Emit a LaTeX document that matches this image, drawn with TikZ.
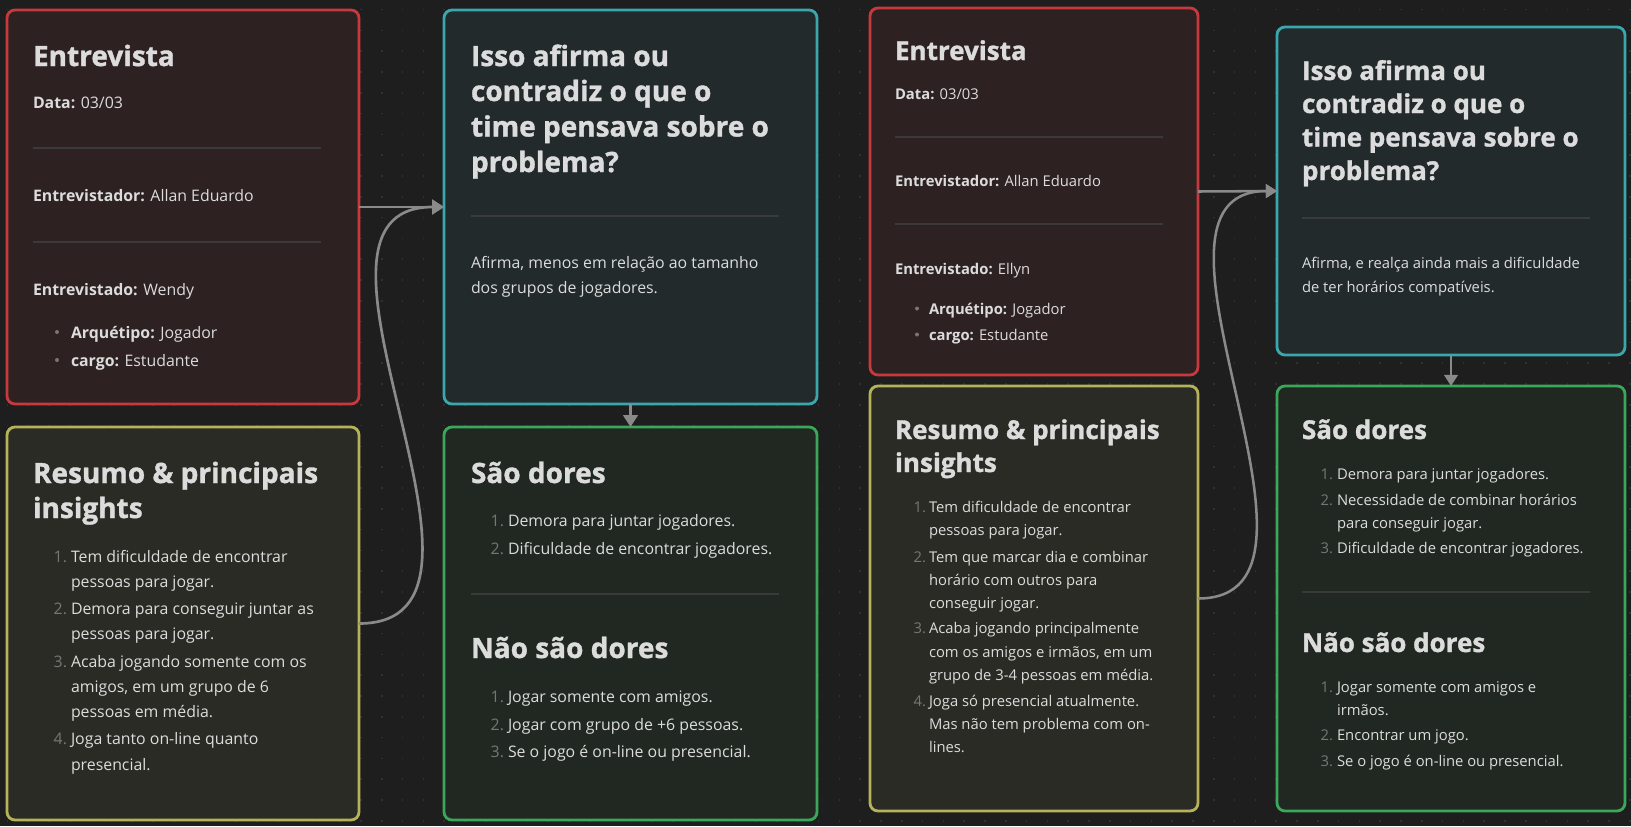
\documentclass[tikz,border=0pt]{standalone}
\usepackage{fontspec}
\setmainfont{Open Sans}
\newfontfamily\headfam{Open Sans}[BoldFeatures={FakeBold=1.2}]
\usetikzlibrary{arrows.meta}
\definecolor{bgc}{HTML}{1E1E1E}
\definecolor{gridc}{HTML}{303030}
\definecolor{txtc}{HTML}{DCDCDC}
\definecolor{numc}{HTML}{767676}
\definecolor{rulec}{HTML}{3A3A3A}
\definecolor{arrc}{HTML}{8A8A8A}
\definecolor{redb}{HTML}{C8393D}
\definecolor{redf}{HTML}{2D2122}
\definecolor{yelb}{HTML}{B5B25A}
\definecolor{yelf}{HTML}{2B2B25}
\definecolor{teab}{HTML}{3AA7AC}
\definecolor{teaf}{HTML}{232A2C}
\definecolor{greb}{HTML}{3AA75A}
\definecolor{gref}{HTML}{212822}
\newcommand\mytx[4][bodyA]{\node[#1] (#2) at (#3) {#4};}
\begin{document}
\begin{tikzpicture}[x=0.75pt,y=-0.75pt,
  card/.style={draw, rounded corners=6pt, line width=2.1pt, inner sep=0pt, outer sep=0pt},
  txt/.style={anchor=base west, inner sep=0pt, outer sep=0pt, text=txtc},
  bodyA/.style={txt, font=\fontsize{11.9}{14}\selectfont},
  headA/.style={txt, font=\fontsize{21}{25}\selectfont\headfam\bfseries},
  numA/.style={bodyA, anchor=base east, text=numc},
  bodyB/.style={txt, font=\fontsize{11.1}{13}\selectfont},
  headB/.style={txt, font=\fontsize{19.5}{23}\selectfont\headfam\bfseries},
  numB/.style={bodyB, anchor=base east, text=numc},
  hrule/.style={draw=rulec, line width=1.5pt},
  bul/.style={circle, fill=numc, draw=none, inner sep=0pt, minimum size=3pt},
  connA/.style={draw=arrc, line width=2pt, -{Triangle[length=9pt,width=11pt]}},
  connB/.style={draw=arrc, line width=1.9pt, -{Triangle[length=8.4pt,width=10.2pt]}},
  dotgrid/.style={draw=gridc, line width=1.2pt, dash pattern=on 1.2pt off 14.4pt}
]
\useasboundingbox[fill=bgc] (0,0) rectangle (1631,826);
\foreach \gy in {0,...,40} {
  \draw[dotgrid] (6.5,{9.5+20.8*\gy}) -- (1631,{9.5+20.8*\gy});
}
% ---------------- cards
\node[card, draw=redb, fill=redf, minimum width=264pt, minimum height=295.5pt] (b1) at (183,207) {};
\node[card, draw=yelb, fill=yelf, minimum width=264pt, minimum height=294.75pt] (b2) at (183,623.5) {};
\node[card, draw=teab, fill=teaf, minimum width=279.75pt, minimum height=295.5pt] (b3) at (630.5,207) {};
\node[card, draw=greb, fill=gref, minimum width=279.75pt, minimum height=294.75pt] (b4) at (630.5,623.5) {};
\node[card, draw=redb, fill=redf, minimum width=246pt, minimum height=275.25pt] (b5) at (1034,191.5) {};
\node[card, draw=yelb, fill=yelf, minimum width=246pt, minimum height=318.75pt] (b6) at (1034,598.5) {};
\node[card, draw=teab, fill=teaf, minimum width=261pt, minimum height=246pt] (b7) at (1451,191) {};
\node[card, draw=greb, fill=gref, minimum width=261pt, minimum height=318.75pt] (b8) at (1451,598.5) {};
% ---------------- connectors
\draw[connA] (b1.east) -- (b3.west);
\draw[connA] (b2.east) .. controls +(178,0) and +(-178,0) .. (b3.west);
\draw[connA] (b3.south) -- (b4.north);
\draw[connB] (b5.east) -- (b7.west);
\draw[connB] (b6.east) .. controls +(165,0) and +(-165,0) .. (b7.west);
\draw[connB] (b7.south) -- (b8.north);
% ---------------- box 1
\mytx[headA]{a1h}{33,66}{Entrevista}
\mytx{a1d}{33,108}{\textbf{Data:} 03/03}
\draw[hrule] (33,148) -- (321,148);
\mytx{a1e}{33,201}{\textbf{Entrevistador:} Allan Eduardo}
\draw[hrule] (33,242) -- (321,242);
\mytx{a1w}{33,295}{\textbf{Entrevistado:} Wendy}
\node[bul] (a1b1) at (57,332) {};
\mytx{a1q}{71,338}{\textbf{Arquétipo:} Jogador}
\node[bul] (a1b2) at (57,360) {};
\mytx{a1c}{71,366}{\textbf{cargo:} Estudante}
% ---------------- box 2
\mytx[headA]{a2h1}{33,483}{Resumo \& principais}
\mytx[headA]{a2h2}{33,518}{insights}
\mytx[numA]{a2n1}{67,562}{1.}
\mytx{a2l1}{71,562}{Tem dificuldade de encontrar}
\mytx{a2l2}{71,587}{pessoas para jogar.}
\mytx[numA]{a2n2}{67,614}{2.}
\mytx{a2l3}{71,614}{Demora para conseguir juntar as}
\mytx{a2l4}{71,639}{pessoas para jogar.}
\mytx[numA]{a2n3}{67,667}{3.}
\mytx{a2l5}{71,667}{Acaba jogando somente com os}
\mytx{a2l6}{71,692}{amigos, em um grupo de 6}
\mytx{a2l7}{71,717}{pessoas em média.}
\mytx[numA]{a2n4}{67,744}{4.}
\mytx{a2l8}{71,744}{Joga tanto on-line quanto}
\mytx{a2l9}{71,770}{presencial.}
% ---------------- box 3
\mytx[headA]{a3h1}{471,66}{Isso afirma ou}
\mytx[headA]{a3h2}{471,101}{contradiz o que o}
\mytx[headA]{a3h3}{471,136.5}{time pensava sobre o}
\mytx[headA]{a3h4}{471,172}{problema?}
\draw[hrule] (471,216) -- (779,216);
\mytx{a3l1}{471,268}{Afirma, menos em relação ao tamanho}
\mytx{a3l2}{471,293}{dos grupos de jogadores.}
% ---------------- box 4
\mytx[headA]{a4h1}{471,483}{São dores}
\mytx[numA]{a4n1}{504,526}{1.}
\mytx{a4l1}{508,526}{Demora para juntar jogadores.}
\mytx[numA]{a4n2}{504,554}{2.}
\mytx{a4l2}{508,554}{Dificuldade de encontrar jogadores.}
\draw[hrule] (471,594) -- (779,594);
\mytx[headA]{a4h2}{471,658}{Não são dores}
\mytx[numA]{a4n3}{504,702}{1.}
\mytx{a4l3}{508,702}{Jogar somente com amigos.}
\mytx[numA]{a4n4}{504,730}{2.}
\mytx{a4l4}{508,730}{Jogar com grupo de +6 pessoas.}
\mytx[numA]{a4n5}{504,757}{3.}
\mytx{a4l5}{508,757}{Se o jogo é on-line ou presencial.}
% ---------------- box 5
\mytx[headB]{b5h}{895,60}{Entrevista}
\mytx[bodyB]{b5d}{895,99}{\textbf{Data:} 03/03}
\draw[hrule] (895,137) -- (1163,137);
\mytx[bodyB]{b5e}{895,186}{\textbf{Entrevistador:} Allan Eduardo}
\draw[hrule] (895,224) -- (1163,224);
\mytx[bodyB]{b5w}{895,274}{\textbf{Entrevistado:} Ellyn}
\node[bul] (b5b1) at (917,308.5) {};
\mytx[bodyB]{b5q}{929,314}{\textbf{Arquétipo:} Jogador}
\node[bul] (b5b2) at (917,334.5) {};
\mytx[bodyB]{b5c}{929,340}{\textbf{cargo:} Estudante}
% ---------------- box 6
\mytx[headB]{b6h1}{895,439}{Resumo \& principais}
\mytx[headB]{b6h2}{895,472}{insights}
\mytx[numB]{b6n1}{926,512}{1.}
\mytx[bodyB]{b6l1}{929,512}{Tem dificuldade de encontrar}
\mytx[bodyB]{b6l2}{929,535}{pessoas para jogar.}
\mytx[numB]{b6n2}{926,562}{2.}
\mytx[bodyB]{b6l3}{929,562}{Tem que marcar dia e combinar}
\mytx[bodyB]{b6l4}{929,585}{horário com outros para}
\mytx[bodyB]{b6l5}{929,608}{conseguir jogar.}
\mytx[numB]{b6n3}{926,633}{3.}
\mytx[bodyB]{b6l6}{929,633}{Acaba jogando principalmente}
\mytx[bodyB]{b6l7}{929,657}{com os amigos e irmãos, em um}
\mytx[bodyB]{b6l8}{929,680}{grupo de 3-4 pessoas em média.}
\mytx[numB]{b6n4}{926,706}{4.}
\mytx[bodyB]{b6l9}{929,706}{Joga só presencial atualmente.}
\mytx[bodyB]{b6l10}{929,729}{Mas não tem problema com on-}
\mytx[bodyB]{b6l11}{929,752}{lines.}
% ---------------- box 7
\mytx[headB]{b7h1}{1302,80}{Isso afirma ou}
\mytx[headB]{b7h2}{1302,113}{contradiz o que o}
\mytx[headB]{b7h3}{1302,146.5}{time pensava sobre o}
\mytx[headB]{b7h4}{1302,180}{problema?}
\draw[hrule] (1302,218) -- (1590,218);
\mytx[bodyB]{b7l1}{1302,268}{Afirma, e realça ainda mais a dificuldade}
\mytx[bodyB]{b7l2}{1302,292}{de ter horários compatíveis.}
% ---------------- box 8
\mytx[headB]{b8h1}{1302,439}{São dores}
\mytx[numB]{b8n1}{1333,479}{1.}
\mytx[bodyB]{b8l1}{1337,479}{Demora para juntar jogadores.}
\mytx[numB]{b8n2}{1333,505}{2.}
\mytx[bodyB]{b8l2}{1337,505}{Necessidade de combinar horários}
\mytx[bodyB]{b8l3}{1337,528}{para conseguir jogar.}
\mytx[numB]{b8n3}{1333,553}{3.}
\mytx[bodyB]{b8l4}{1337,553}{Dificuldade de encontrar jogadores.}
\draw[hrule] (1302,592) -- (1590,592);
\mytx[headB]{b8h2}{1302,652}{Não são dores}
\mytx[numB]{b8n4}{1333,692}{1.}
\mytx[bodyB]{b8l5}{1337,692}{Jogar somente com amigos e}
\mytx[bodyB]{b8l6}{1337,715}{irmãos.}
\mytx[numB]{b8n5}{1333,740}{2.}
\mytx[bodyB]{b8l7}{1337,740}{Encontrar um jogo.}
\mytx[numB]{b8n6}{1333,766}{3.}
\mytx[bodyB]{b8l8}{1337,766}{Se o jogo é on-line ou presencial.}
\end{tikzpicture}
\end{document}
